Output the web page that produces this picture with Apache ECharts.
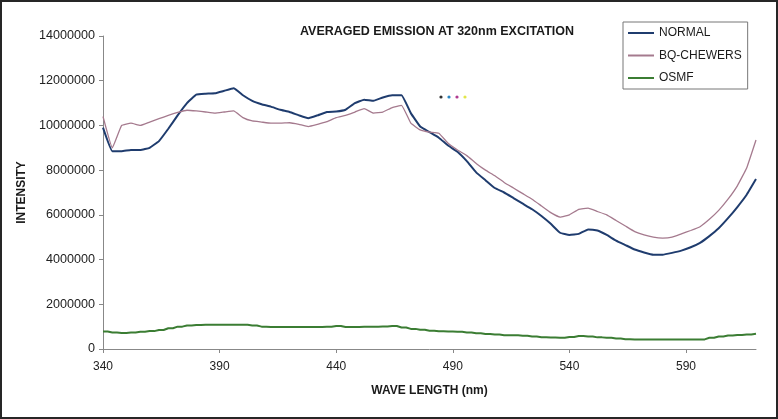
<!DOCTYPE html>
<html>
<head>
<meta charset="utf-8">
<script src="https://cdn.jsdelivr.net/npm/echarts@6/dist/echarts.min.js"></script>
<style>
html,body{margin:0;padding:0;background:#fff;}
#wrap{position:relative;width:778px;height:419px;}
#chart{position:absolute;left:0;top:0;width:778px;height:419px;}
#frame{position:absolute;left:0;top:0;width:778px;height:419px;box-sizing:border-box;border:2px solid #262626;pointer-events:none;}
</style>
</head>
<body>
<div id="wrap"><div id="chart"></div><div id="frame"></div></div>
<script>
// Wavelengths (nm)
const wavelengths = [340,344,348,352,356,360,364,368,372,376,380,384,388,392,396,400,404,408,412,416,420,424,428,432,436,440,444,448,452,456,460,464,468,472,476,480,484,488,492,496,500,504,508,512,516,520,524,528,532,536,540,544,548,552,556,560,564,568,572,576,580,584,588,592,596,600,604,608,612,616,620];
// Intensities in millions
const normalM = [9.9,8.85,8.85,8.9,8.9,9.0,9.3,9.85,10.45,11.0,11.38,11.42,11.44,11.55,11.66,11.35,11.1,10.95,10.84,10.7,10.6,10.45,10.32,10.45,10.6,10.62,10.7,11.0,11.15,11.1,11.25,11.35,11.35,10.55,9.95,9.7,9.45,9.1,8.82,8.4,7.9,7.55,7.2,7.0,6.75,6.5,6.25,5.95,5.6,5.2,5.1,5.15,5.35,5.3,5.1,4.85,4.65,4.45,4.32,4.22,4.22,4.3,4.4,4.55,4.75,5.05,5.4,5.85,6.35,6.9,7.6];
const bqChewersM = [10.4,9.0,10.0,10.1,10.0,10.15,10.3,10.45,10.58,10.68,10.65,10.6,10.55,10.6,10.65,10.35,10.2,10.15,10.1,10.1,10.12,10.05,9.95,10.05,10.17,10.35,10.45,10.6,10.75,10.55,10.6,10.8,10.9,10.1,9.8,9.7,9.65,9.2,8.9,8.65,8.3,8.0,7.75,7.45,7.2,6.95,6.7,6.4,6.1,5.9,6.0,6.25,6.3,6.15,6.0,5.75,5.5,5.25,5.1,5.0,4.96,5.0,5.15,5.3,5.47,5.8,6.2,6.7,7.3,8.1,9.35];
const osmfM = [0.78,0.74,0.72,0.74,0.77,0.8,0.85,0.93,1.0,1.05,1.07,1.08,1.08,1.08,1.08,1.08,1.05,1.0,0.98,0.98,0.98,0.98,0.98,0.98,1.0,1.03,0.98,0.98,1.0,1.0,1.01,1.03,0.96,0.9,0.86,0.82,0.79,0.78,0.77,0.74,0.7,0.67,0.65,0.62,0.61,0.59,0.56,0.53,0.51,0.5,0.54,0.58,0.56,0.52,0.5,0.47,0.44,0.42,0.42,0.42,0.42,0.42,0.42,0.42,0.43,0.5,0.56,0.6,0.63,0.65,0.68];
const xTicks = [340,390,440,490,540,590];
const yTicks = [0,2000000,4000000,6000000,8000000,10000000,12000000,14000000];
const seriesNames = ['NORMAL','BQ-CHEWERS','OSMF'];

const toPairs = arr => wavelengths.map((w,i)=>[w, arr[i]*1e6]);
const font = 'Liberation Sans, Arial, sans-serif';
const chart = echarts.init(document.getElementById('chart'), null, {renderer:'canvas'});
chart.setOption({
  animation:false,
  backgroundColor:'#fff',
  title:{
    text:'AVERAGED EMISSION AT 320nm EXCITATION',
    left:432, top:20, textAlign:'center',
    textStyle:{fontFamily:font,fontSize:12.5,fontWeight:'bold',color:'#1a1a1a'}
  },
  legend:{
    data:seriesNames, orient:'vertical', left:623, top:22,
    icon:'rect', itemWidth:26, itemHeight:2, itemGap:10.5,
    padding:[5,6,5,5], borderColor:'#777', borderWidth:1,
    textStyle:{fontFamily:font,fontSize:12,color:'#1a1a1a',padding:[0,0,0,0]}
  },
  grid:{left:103,right:22,top:36,bottom:70,containLabel:false},
  xAxis:{
    type:'value', min:340, max:620,
    name:'WAVE LENGTH (nm)', nameLocation:'middle', nameGap:36,
    nameTextStyle:{fontFamily:font,fontSize:12,fontWeight:'bold',color:'#1a1a1a'},
    axisLine:{show:true,lineStyle:{color:'#888',width:1}},
    axisTick:{show:true,length:4,customValues:xTicks,lineStyle:{color:'#888'}},
    axisLabel:{customValues:xTicks,margin:12,fontFamily:font,fontSize:12,color:'#222'},
    splitLine:{show:false}
  },
  yAxis:{
    type:'value', min:yTicks[0], max:yTicks[yTicks.length-1], interval:2000000,
    name:'INTENSITY', nameLocation:'middle', nameGap:75, nameRotate:90,
    nameTextStyle:{fontFamily:font,fontSize:12,fontWeight:'bold',color:'#1a1a1a'},
    axisLine:{show:true,lineStyle:{color:'#888',width:1}},
    axisTick:{show:true,length:4,lineStyle:{color:'#888'}},
    axisLabel:{margin:8,fontFamily:font,fontSize:12.6,color:'#222',formatter:v=>String(v)},
    splitLine:{show:false}
  },
  series:[
    {name:seriesNames[0],type:'line',data:toPairs(normalM),showSymbol:false,smooth:0.1,
     lineStyle:{color:'#1f3c6e',width:2},itemStyle:{color:'#1f3c6e'}},
    {name:seriesNames[1],type:'line',data:toPairs(bqChewersM),showSymbol:false,smooth:0.1,
     lineStyle:{color:'#a57a8e',width:1.3},itemStyle:{color:'#a57a8e'}},
    {name:seriesNames[2],type:'line',data:toPairs(osmfM),showSymbol:false,step:'middle',
     lineStyle:{color:'#3b7d33',width:2},itemStyle:{color:'#3b7d33'}}
  ],
  graphic:[
    {type:'circle',shape:{cx:441,cy:97,r:1.6},style:{fill:'#333'}},
    {type:'circle',shape:{cx:449,cy:97,r:1.6},style:{fill:'#2a86c2'}},
    {type:'circle',shape:{cx:457,cy:97,r:1.6},style:{fill:'#b03a90'}},
    {type:'circle',shape:{cx:465,cy:97,r:1.6},style:{fill:'#e2e64a'}}
  ]
});
</script>
</body>
</html>
